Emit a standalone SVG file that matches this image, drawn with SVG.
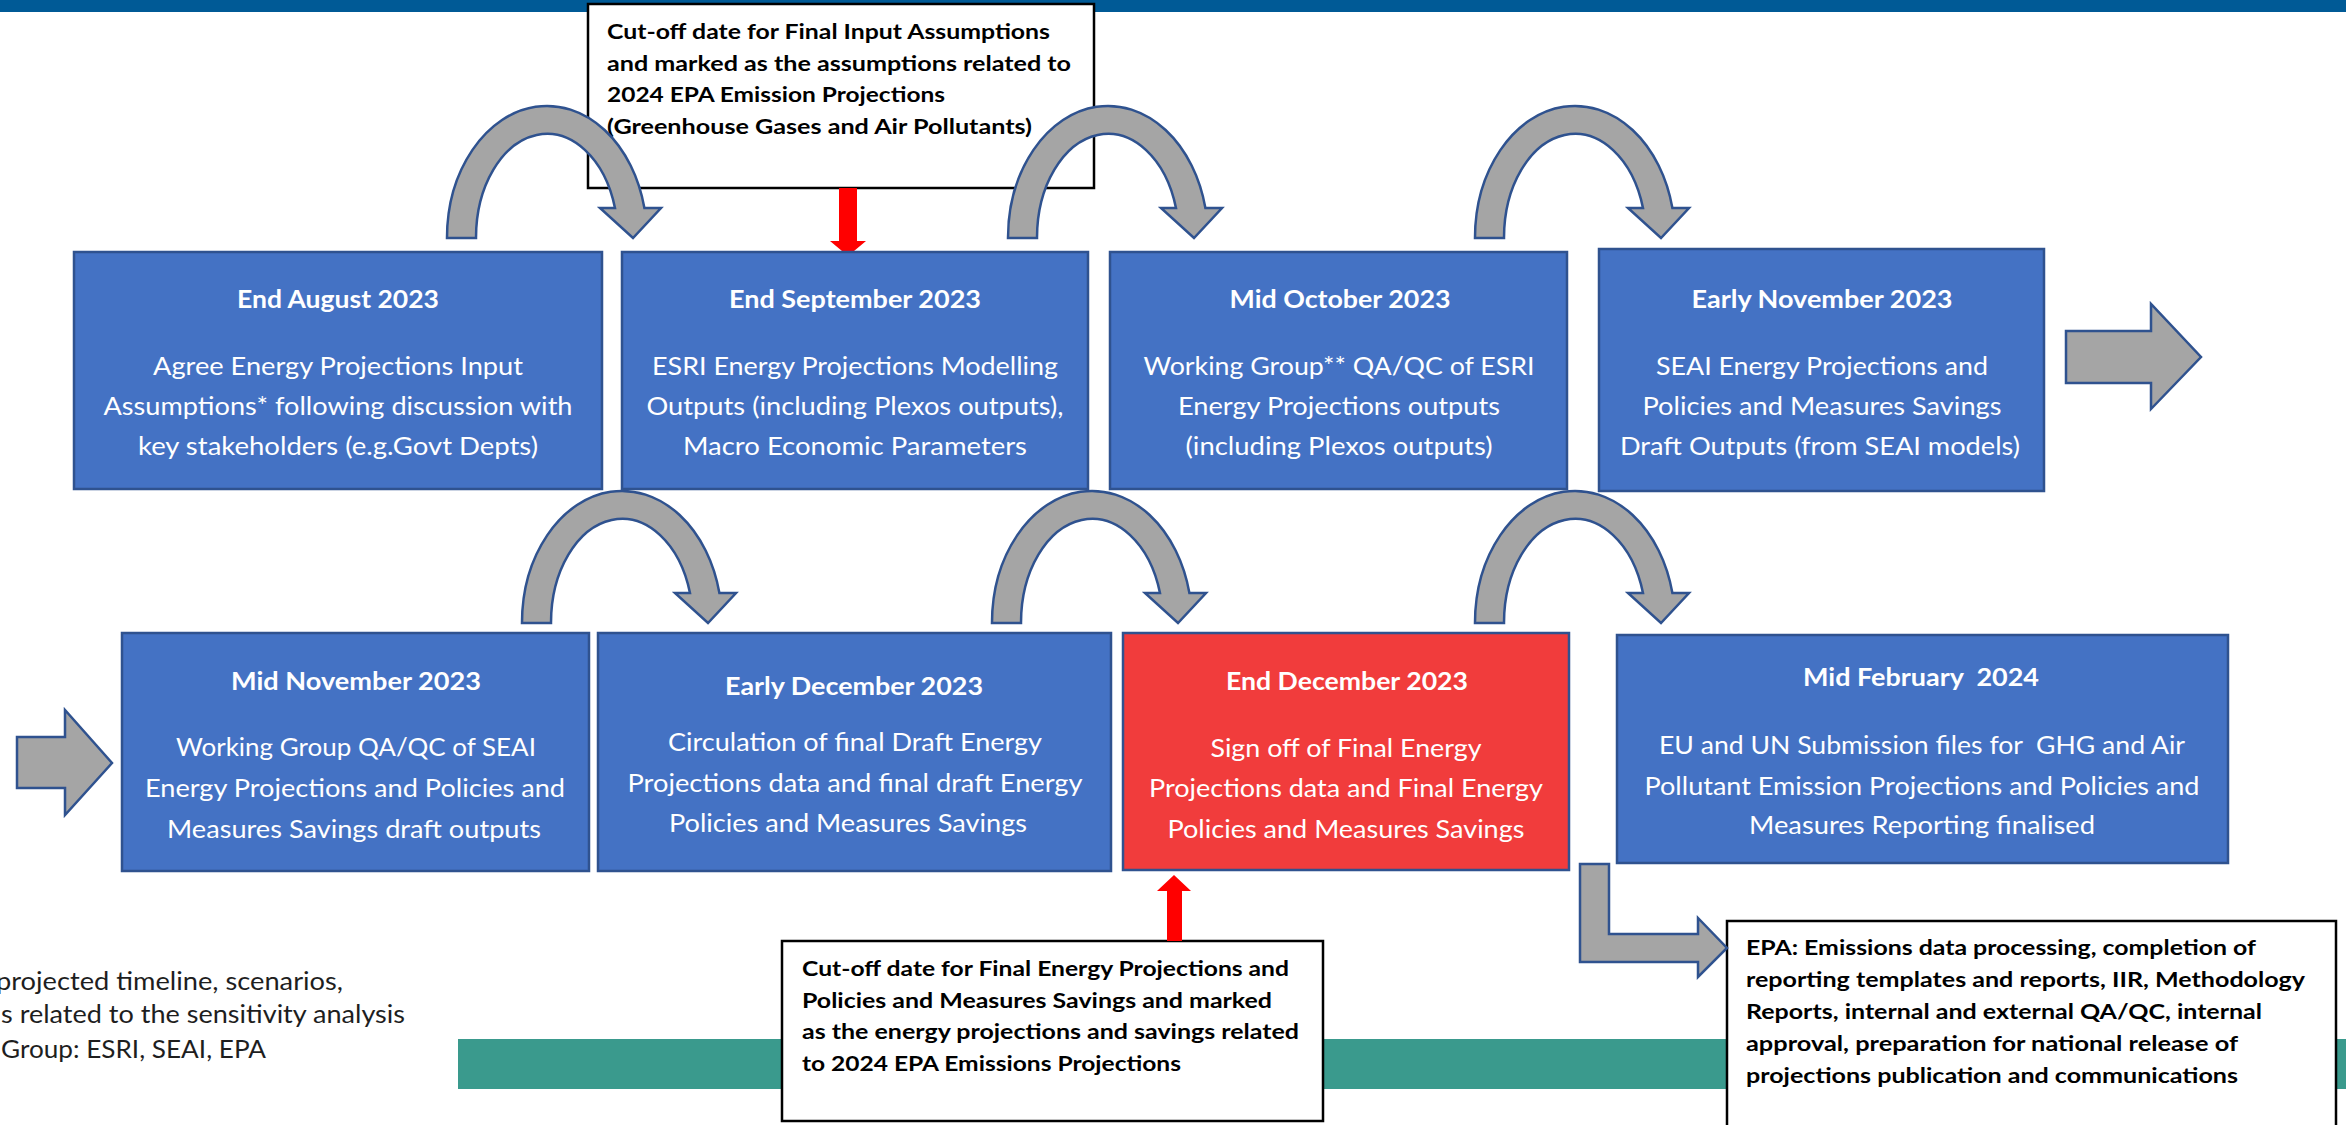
<svg xmlns="http://www.w3.org/2000/svg" width="2346" height="1125" viewBox="0 0 2346 1125">
  <style>
    .box{fill:#4472C4;stroke:#2F528F;stroke-width:2.5}
    .red{fill:#F13C3C;stroke:#2F528F;stroke-width:2.5}
    .call{fill:#FFFFFF;stroke:#000000;stroke-width:2.5}
    .gray{fill:#A5A5A5;stroke:#2F528F;stroke-width:2.5;stroke-linejoin:miter}
    .cut{fill:#FF0000}
    .t{font-family:Lato,"Liberation Sans",sans-serif;font-size:25.5px;fill:#FFFFFF;text-anchor:middle}
    .b{font-weight:bold}
    .c{font-family:Lato,"Liberation Sans",sans-serif;font-size:20.5px;font-weight:bold;fill:#000000}
    .n{font-family:Lato,"Liberation Sans",sans-serif;font-size:25px;fill:#1E1E1E}
  </style>
  <defs>
    <!-- curved hand-over arrow, origin at the centre of its base line -->
    <path id="curve" d="M-100 0 A100 132 0 0 1 97.4 -30 L114 -30 L86 0 L53 -30 L68 -30 A71 104 0 0 0 -71 0 Z"/>
  </defs>

  <!-- header band and timeline band -->
  <rect x="0" y="0" width="2346" height="12" fill="#005A96"/>
  <rect x="458" y="1039" width="1888" height="50" fill="#3A9A8D"/>

  <!-- footnotes -->
  <g id="notes">
    <text class="n" x="-4" y="990" textLength="347" lengthAdjust="spacingAndGlyphs">projected timeline, scenarios,</text>
    <text class="n" x="1" y="1023" textLength="404" lengthAdjust="spacingAndGlyphs">s related to the sensitivity analysis</text>
    <text class="n" x="1" y="1058" textLength="265" lengthAdjust="spacingAndGlyphs">Group: ESRI, SEAI, EPA</text>
  </g>

  <!-- cut-off callouts -->
  <g id="cutoff-input">
    <rect class="call" x="588" y="4" width="506" height="184"/>
    <text class="c" x="607" y="39" textLength="443" lengthAdjust="spacingAndGlyphs">Cut-off date for Final Input Assumptions</text>
    <text class="c" x="607" y="71" textLength="464" lengthAdjust="spacingAndGlyphs">and marked as the assumptions related to</text>
    <text class="c" x="607" y="102" textLength="338" lengthAdjust="spacingAndGlyphs">2024 EPA Emission Projections</text>
    <text class="c" x="607" y="134" textLength="425" lengthAdjust="spacingAndGlyphs">(Greenhouse Gases and Air Pollutants)</text>
  </g>
  <g id="cutoff-energy">
    <rect class="call" x="782" y="941" width="541" height="180"/>
    <text class="c" x="802" y="976" textLength="487" lengthAdjust="spacingAndGlyphs">Cut-off date for Final Energy Projections and</text>
    <text class="c" x="802" y="1008" textLength="470" lengthAdjust="spacingAndGlyphs">Policies and Measures Savings and marked</text>
    <text class="c" x="802" y="1039" textLength="497" lengthAdjust="spacingAndGlyphs">as the energy projections and savings related</text>
    <text class="c" x="802" y="1071" textLength="379" lengthAdjust="spacingAndGlyphs">to 2024 EPA Emissions Projections</text>
  </g>
  <g id="epa-processing">
    <rect class="call" x="1727" y="921" width="609" height="220"/>
    <text class="c" x="1746" y="955" textLength="510" lengthAdjust="spacingAndGlyphs">EPA: Emissions data processing, completion of</text>
    <text class="c" x="1746" y="987" textLength="559" lengthAdjust="spacingAndGlyphs">reporting templates and reports, IIR, Methodology</text>
    <text class="c" x="1746" y="1019" textLength="516" lengthAdjust="spacingAndGlyphs">Reports, internal and external QA/QC, internal</text>
    <text class="c" x="1746" y="1051" textLength="492" lengthAdjust="spacingAndGlyphs">approval, preparation for national release of</text>
    <text class="c" x="1746" y="1083" textLength="492" lengthAdjust="spacingAndGlyphs">projections publication and communications</text>
  </g>

  <!-- connectors -->
  <g id="connectors">
    <use href="#curve" class="gray" x="547" y="238"/>
    <use href="#curve" class="gray" x="1108" y="238"/>
    <use href="#curve" class="gray" x="1575" y="238"/>
    <use href="#curve" class="gray" x="622" y="623"/>
    <use href="#curve" class="gray" x="1092" y="623"/>
    <use href="#curve" class="gray" x="1575" y="623"/>
    <path class="gray" d="M2066 331 L2151 331 L2151 304 L2201 357 L2151 409 L2151 383 L2066 383 Z"/>
    <path class="gray" d="M17 737 L65 737 L65 710 L112 763 L65 815 L65 788 L17 788 Z"/>
    <path class="gray" d="M1580 864 L1609 864 L1609 934 L1698 934 L1698 918 L1727 948 L1698 977 L1698 962 L1580 962 Z"/>
    <path class="cut" d="M839 188 L857 188 L857 241 L866 241 L848 256 L830 241 L839 241 Z"/>
    <path class="cut" d="M1167 941 L1182 941 L1182 891 L1191 891 L1174 875 L1157 891 L1167 891 Z"/>
  </g>

  <!-- timeline steps -->
  <g id="end-august-2023">
    <rect class="box" x="74" y="252" width="528" height="237"/>
    <text class="t b" x="338" y="308" textLength="202" lengthAdjust="spacingAndGlyphs">End August 2023</text>
    <text class="t" x="338" y="375" textLength="370" lengthAdjust="spacingAndGlyphs">Agree Energy Projections Input</text>
    <text class="t" x="338" y="415" textLength="469" lengthAdjust="spacingAndGlyphs">Assumptions* following discussion with</text>
    <text class="t" x="338" y="455" textLength="400" lengthAdjust="spacingAndGlyphs">key stakeholders (e.g.Govt Depts)</text>
  </g>
  <g id="end-september-2023">
    <rect class="box" x="622" y="252" width="466" height="237"/>
    <text class="t b" x="855" y="308" textLength="252" lengthAdjust="spacingAndGlyphs">End September 2023</text>
    <text class="t" x="855" y="375" textLength="406" lengthAdjust="spacingAndGlyphs">ESRI Energy Projections Modelling</text>
    <text class="t" x="855" y="415" textLength="417" lengthAdjust="spacingAndGlyphs">Outputs (including Plexos outputs),</text>
    <text class="t" x="855" y="455" textLength="344" lengthAdjust="spacingAndGlyphs">Macro Economic Parameters</text>
  </g>
  <g id="mid-october-2023">
    <rect class="box" x="1110" y="252" width="457" height="237"/>
    <text class="t b" x="1340" y="308" textLength="221" lengthAdjust="spacingAndGlyphs">Mid October 2023</text>
    <text class="t" x="1339" y="375" textLength="391" lengthAdjust="spacingAndGlyphs">Working Group** QA/QC of ESRI</text>
    <text class="t" x="1339" y="415" textLength="322" lengthAdjust="spacingAndGlyphs">Energy Projections outputs</text>
    <text class="t" x="1339" y="455" textLength="307" lengthAdjust="spacingAndGlyphs">(including Plexos outputs)</text>
  </g>
  <g id="early-november-2023">
    <rect class="box" x="1599" y="249" width="445" height="242"/>
    <text class="t b" x="1822" y="308" textLength="261" lengthAdjust="spacingAndGlyphs">Early November 2023</text>
    <text class="t" x="1822" y="375" textLength="332" lengthAdjust="spacingAndGlyphs">SEAI Energy Projections and</text>
    <text class="t" x="1822" y="415" textLength="359" lengthAdjust="spacingAndGlyphs">Policies and Measures Savings</text>
    <text class="t" x="1820" y="455" textLength="400" lengthAdjust="spacingAndGlyphs">Draft Outputs (from SEAI models)</text>
  </g>
  <g id="mid-november-2023">
    <rect class="box" x="122" y="633" width="467" height="238"/>
    <text class="t b" x="356" y="690" textLength="250" lengthAdjust="spacingAndGlyphs">Mid November 2023</text>
    <text class="t" x="356" y="756" textLength="360" lengthAdjust="spacingAndGlyphs">Working Group QA/QC of SEAI</text>
    <text class="t" x="355" y="797" textLength="420" lengthAdjust="spacingAndGlyphs">Energy Projections and Policies and</text>
    <text class="t" x="354" y="838" textLength="374" lengthAdjust="spacingAndGlyphs">Measures Savings draft outputs</text>
  </g>
  <g id="early-december-2023">
    <rect class="box" x="598" y="633" width="513" height="238"/>
    <text class="t b" x="854" y="695" textLength="258" lengthAdjust="spacingAndGlyphs">Early December 2023</text>
    <text class="t" x="855" y="751" textLength="374" lengthAdjust="spacingAndGlyphs">Circulation of final Draft Energy</text>
    <text class="t" x="855" y="792" textLength="455" lengthAdjust="spacingAndGlyphs">Projections data and final draft Energy</text>
    <text class="t" x="848" y="832" textLength="358" lengthAdjust="spacingAndGlyphs">Policies and Measures Savings</text>
  </g>
  <g id="end-december-2023">
    <rect class="red" x="1123" y="633" width="446" height="237"/>
    <text class="t b" x="1347" y="690" textLength="242" lengthAdjust="spacingAndGlyphs">End December 2023</text>
    <text class="t" x="1346" y="757" textLength="271" lengthAdjust="spacingAndGlyphs">Sign off of Final Energy</text>
    <text class="t" x="1346" y="797" textLength="394" lengthAdjust="spacingAndGlyphs">Projections data and Final Energy</text>
    <text class="t" x="1346" y="838" textLength="357" lengthAdjust="spacingAndGlyphs">Policies and Measures Savings</text>
  </g>
  <g id="mid-february-2024">
    <rect class="box" x="1617" y="635" width="611" height="228"/>
    <text class="t b" x="1921" y="686" textLength="236" lengthAdjust="spacingAndGlyphs" xml:space="preserve">Mid February  2024</text>
    <text class="t" x="1922" y="754" textLength="526" lengthAdjust="spacingAndGlyphs" xml:space="preserve">EU and UN Submission files for  GHG and Air</text>
    <text class="t" x="1922" y="795" textLength="555" lengthAdjust="spacingAndGlyphs">Pollutant Emission Projections and Policies and</text>
    <text class="t" x="1922" y="834" textLength="346" lengthAdjust="spacingAndGlyphs">Measures Reporting finalised</text>
  </g>
</svg>
